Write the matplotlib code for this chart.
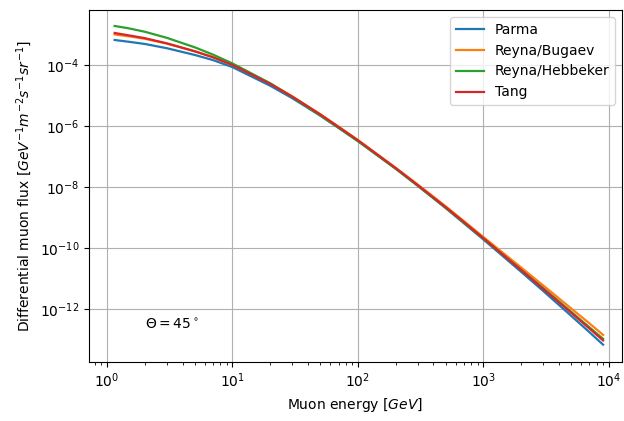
import matplotlib
matplotlib.use('Agg')
import matplotlib.pyplot as plt
import numpy as np

# muon energy in GeV
energy = [1.15, 1.5, 2, 3, 5, 7, 10, 20, 30, 50, 70, 100, 200, 300,
          500, 700, 1000, 2000, 3000, 5000, 7000, 9000]

# log10 of the differential flux
log_parma = [-3.18, -3.24, -3.31, -3.45, -3.67, -3.84, -4.07, -4.68, -5.09, -5.66, -6.06,
             -6.49, -7.40, -7.96, -8.69, -9.19, -9.72, -10.78, -11.41, -12.22, -12.76, -13.17]
log_bugaev = [-3.00, -3.06, -3.14, -3.30, -3.55, -3.74, -3.99, -4.61, -5.03, -5.61, -6.02,
              -6.46, -7.37, -7.92, -8.63, -9.12, -9.64, -10.64, -11.23, -11.98, -12.47, -12.85]
log_hebbeker = [-2.72, -2.80, -2.91, -3.11, -3.42, -3.66, -3.95, -4.60, -5.05, -5.65, -6.06,
                -6.50, -7.40, -7.96, -8.68, -9.17, -9.69, -10.72, -11.32, -12.09, -12.60, -12.98]
log_tang = [-2.95, -3.03, -3.12, -3.29, -3.55, -3.75, -4.00, -4.62, -5.04, -5.62, -6.03,
            -6.47, -7.38, -7.94, -8.66, -9.15, -9.68, -10.72, -11.34, -12.12, -12.64, -13.03]

models = [('Parma', log_parma), ('Reyna/Bugaev', log_bugaev),
          ('Reyna/Hebbeker', log_hebbeker), ('Tang', log_tang)]

fig = plt.figure(figsize=(6.24, 4.21), dpi=100)
ax = fig.add_axes([0.1426, 0.140, 0.854, 0.836])

for name, lf in models:
    ax.plot(energy, 10**np.array(lf), lw=1.6, label=name)

ax.set_xscale('log')
ax.set_yscale('log')
ax.set_xlim(10**-0.144, 10**4.104)
ax.set_ylim(10**-13.74, 10**-2.2)
ax.set_yticks([1e-12, 1e-10, 1e-8, 1e-6, 1e-4])
ax.grid(True)

ax.text(2.0, 3e-13, r'$\Theta = 45^\circ$', va='center')
ax.set_xlabel('Muon energy [$GeV$]')
ax.set_ylabel('Differential muon flux [$GeV^{-1}m^{-2}s^{-1}sr^{-1}$]')
ax.legend(loc='upper right')

fig.savefig('out.png', dpi=100)
